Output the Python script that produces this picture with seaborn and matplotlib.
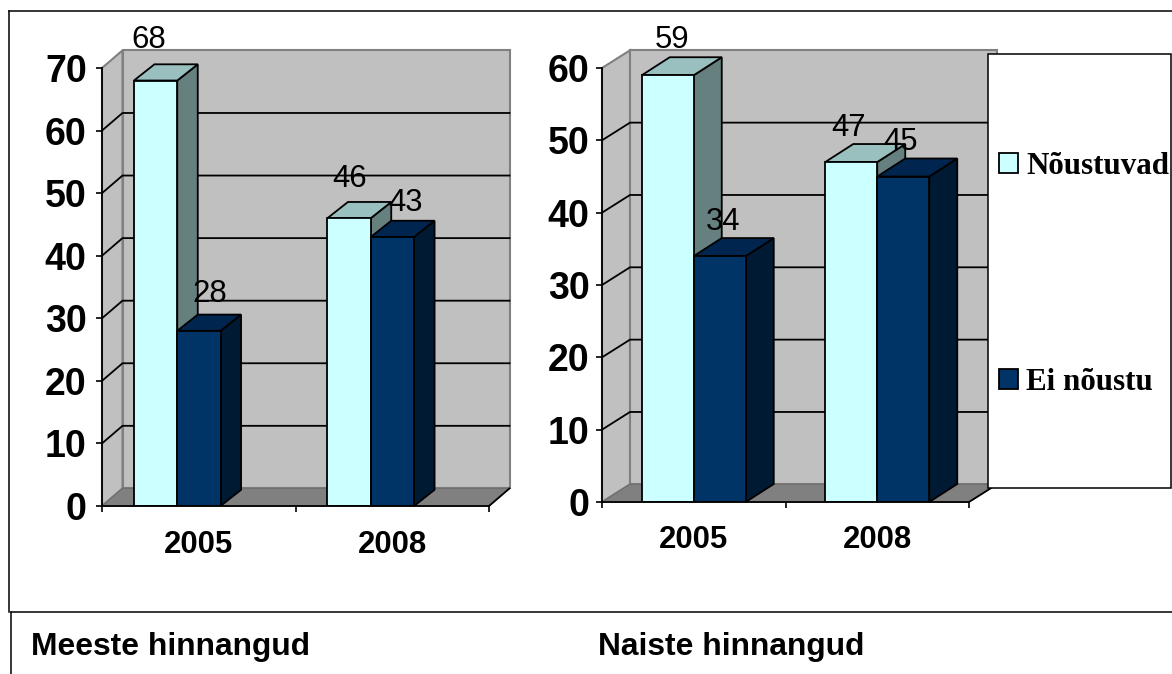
import pandas as pd
import seaborn as sns
import matplotlib
matplotlib.use('Agg')
import matplotlib.pyplot as plt
from matplotlib.lines import Line2D
from matplotlib.patches import Polygon, Rectangle

W, H = 1172, 674

#Chart values
years = ['2005', '2008']
series_names = ['Nõustuvad', 'Ei nõustu']
men_agree = [68, 46]
men_disagree = [28, 43]
women_agree = [59, 47]
women_disagree = [34, 45]
men_title = 'Meeste hinnangud'
women_title = 'Naiste hinnangud'

colors = {'Nõustuvad': '#CCFFFF', 'Ei nõustu': '#003366'}
top_colors = ['#99BFBF', '#002650']
side_colors = ['#668080', '#001A33']

plt.rcParams['font.family'] = ['Liberation Sans', 'DejaVu Sans']


def to_table(agree, disagree):
    rows = []
    for i, year in enumerate(years):
        rows.append({'year': year, 'series': series_names[0], 'value': agree[i]})
        rows.append({'year': year, 'series': series_names[1], 'value': disagree[i]})
    return pd.DataFrame(rows)


def fig_xy(x, y):
    return x / W, 1 - y / H


def draw_chart(fig, df, box, ymax, bar_px, shift_px, depth, bar_depth, label_offsets, tick_pad, label_pad):
    left, right, top, bottom = box
    ax = fig.add_axes([left / W, 1 - bottom / H, (right - left) / W, (bottom - top) / H])
    per_cat = (right - left) / 2
    per_unit = (bottom - top) / ymax
    bar_w = bar_px / per_cat

    sns.barplot(data=df, x='year', y='value', hue='series', order=years, hue_order=series_names,
                palette=colors, saturation=1, width=2 * bar_w, gap=0, dodge=True,
                edgecolor='black', linewidth=1.3, ax=ax)
    handles, labels = ax.get_legend_handles_labels()
    ax.get_legend().remove()

    # bars sit shift_px left of the middle of their slot
    x0 = -0.5 + shift_px / per_cat
    x1 = x0 + 2
    ax.set_xlim(x0, x1)
    ax.set_ylim(0, ymax)
    ax.set_facecolor('none')

    dx = depth[0] / per_cat
    dy = depth[1] / per_unit
    bdx = bar_depth[0] / per_cat
    bdy = bar_depth[1] / per_unit

    # walls and floor
    ax.add_patch(Polygon([(x0, 0), (x0, ymax), (x0 + dx, ymax + dy), (x0 + dx, dy)], fc='#C0C0C0', ec='#808080',
                         lw=1.5, clip_on=False, zorder=0.5))
    ax.add_patch(Polygon([(x0 + dx, dy), (x0 + dx, ymax + dy), (x1 + dx, ymax + dy), (x1 + dx, dy)], fc='#C0C0C0',
                         ec='#808080', lw=1.5, clip_on=False, zorder=0.5))
    ax.add_patch(Polygon([(x0, 0), (x1, 0), (x1 + dx, dy), (x0 + dx, dy)], fc='#808080', ec='#707070',
                         lw=1.0, clip_on=False, zorder=0.6))
    ax.plot([x1, x1 + dx], [0, dy], color='black', lw=1.3, clip_on=False, zorder=0.7)

    # gridlines run over the side wall and the back wall
    for v in range(10, ymax, 10):
        ax.plot([x0, x0 + dx, x1 + dx], [v, v + dy, v + dy], color='black', lw=1.3, clip_on=False, zorder=1)

    # 3d faces of the bars, from the bars themselves
    for s, container in enumerate(ax.containers):
        for i, bar in enumerate(container):
            bx, bw, bh = bar.get_x(), bar.get_width(), bar.get_height()
            side = Polygon([(bx + bw, 0), (bx + bw, bh), (bx + bw + bdx, bh + bdy), (bx + bw + bdx, bdy)],
                           fc=side_colors[s], ec='black', lw=1.3, clip_on=False, zorder=3 + 2 * s)
            lid = Polygon([(bx, bh), (bx + bw, bh), (bx + bw + bdx, bh + bdy), (bx + bdx, bh + bdy)],
                          fc=top_colors[s], ec='black', lw=1.3, clip_on=False, zorder=3 + 2 * s)
            ax.add_patch(side)
            ax.add_patch(lid)
            bar.set_zorder(4 + 2 * s)
            off = label_offsets[s][i]
            ax.annotate(str(int(bh)), (bx + bw / 2, bh), xytext=(off[0] * 0.72, off[1] * 0.72),
                        textcoords='offset points', ha='center', va='center', fontsize=22.4,
                        annotation_clip=False, zorder=12)

    for name in ['top', 'right']:
        ax.spines[name].set_visible(False)
    for name in ['left', 'bottom']:
        ax.spines[name].set_linewidth(1.3)
        ax.spines[name].set_color('black')
        ax.spines[name].set_zorder(8)

    ax.set_xlabel('')
    ax.set_ylabel('')
    ax.grid(False)
    ax.set_yticks(range(0, ymax + 1, 10))
    ax.tick_params(axis='y', length=4.5, width=1.2, pad=tick_pad, labelsize=27)
    for t in ax.get_yticklabels():
        t.set_fontweight('bold')
    # ticks between the categories, labels in the middle of each slot
    ax.set_xticks([x0, x0 + 1, x1])
    ax.set_xticklabels([])
    ax.set_xticks([x0 + 0.5, x0 + 1.5], labels=years, minor=True)
    ax.tick_params(axis='x', which='major', length=4.5, width=1.2)
    ax.tick_params(axis='x', which='minor', length=0, pad=label_pad, labelsize=22.4)
    for t in ax.get_xticklabels(minor=True):
        t.set_fontweight('bold')
    return handles, labels


fig = plt.figure(figsize=(W / 100, H / 100), dpi=100, facecolor='white')

handles, labels = draw_chart(fig, to_table(men_agree, men_disagree), (102, 489, 68, 506), 70, 43.3, 21.5,
                             (20.5, 17.6), (20.5, 16.2),
                             [[(-7, 41), (0.5, 39)], [(11, 37), (13, 34)]], 6.5, 17)
draw_chart(fig, to_table(women_agree, women_disagree), (602, 969, 68, 502), 60, 52, 0,
           (28, 17.7), (28, 18),
           [[(4, 35), (-2.5, 34)], [(3, 34), (-3, 35)]], 4.5, 16.5)

# outer frame and the caption row
for (xa, ya), (xb, yb) in [((9.5, 11), (W, 11)), ((9.5, 11), (9.5, 612)), ((10.5, 612), (W, 612)),
                           ((10.5, 612), (10.5, H))]:
    a, b = fig_xy(xa, ya), fig_xy(xb, yb)
    fig.add_artist(Line2D([a[0], b[0]], [a[1], b[1]], color='black', lw=1.1))

fig.text(*fig_xy(31, 647), men_title, fontsize=22.9, fontweight='bold', va='center', ha='left')
fig.text(*fig_xy(598, 647), women_title, fontsize=22.9, fontweight='bold', va='center', ha='left')

# legend box sits over the back wall of the second chart
lx, ly = fig_xy(988, 488)
fig.add_artist(Rectangle((lx, ly), (1171 - 988) / W, (488 - 54) / H, transform=fig.transFigure, fc='white',
                         ec='black', lw=1.1, zorder=5))
leg = fig.legend(handles, labels, loc='upper left', bbox_to_anchor=fig_xy(999, 152), frameon=False, borderpad=0,
                 borderaxespad=0, handlelength=0.61, handleheight=0.61, handletextpad=0.27, labelspacing=6.03,
                 prop={'family': 'Liberation Serif', 'weight': 'bold', 'size': 22.3})
leg.set_zorder(6)

fig.savefig('out.png', dpi=100)
